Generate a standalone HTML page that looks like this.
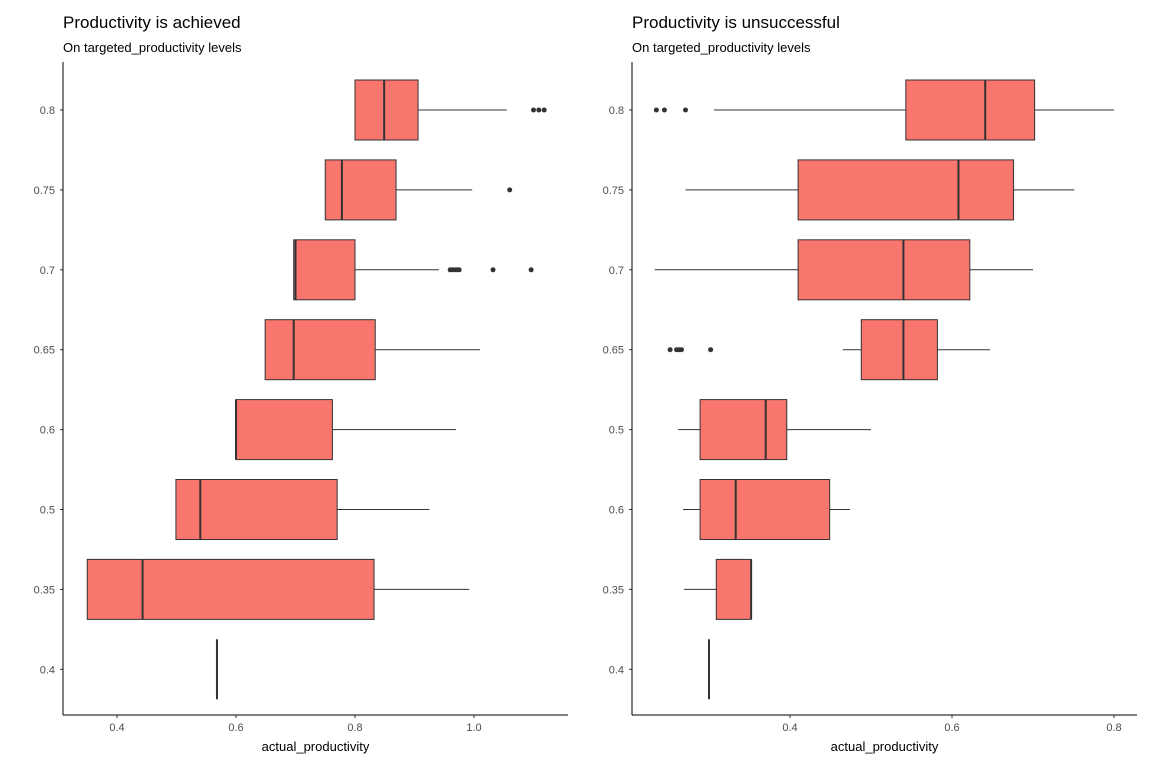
<!DOCTYPE html>
<html><head><meta charset="utf-8"><style>
body{margin:0;background:#fff;}
svg{display:block;font-family:"Liberation Sans",sans-serif;}
</style></head><body>
<svg id="chart" width="1152" height="768" viewBox="0 0 1152 768"></svg>
<script>
const categoriesLeft=["0.8","0.75","0.7","0.65","0.6","0.5","0.35","0.4"];
const minLeft=[0.8,0.75,0.697,0.649,0.6,0.5,0.35,0.568];
const q1Left=[0.8,0.75,0.697,0.649,0.6,0.499,0.35,0.568];
const medLeft=[0.849,0.778,0.7,0.697,0.6,0.54,0.443,0.568];
const q3Left=[0.906,0.869,0.8,0.834,0.762,0.77,0.832,0.568];
const maxLeft=[1.055,0.997,0.941,1.01,0.97,0.925,0.992,0.568];
const outLeft=[[1.10,1.109,1.118],[1.06],[0.96,0.965,0.97,0.975,1.032,1.096],[],[],[],[],[]];
const ticksLeft=[0.4,0.6,0.8,1.0];
const tickLabelsLeft=["0.4","0.6","0.8","1.0"];

const categoriesRight=["0.8","0.75","0.7","0.65","0.5","0.6","0.35","0.4"];
const minRight=[0.306,0.271,0.233,0.465,0.262,0.268,0.269,0.3];
const q1Right=[0.543,0.41,0.41,0.488,0.289,0.289,0.309,0.3];
const medRight=[0.641,0.608,0.54,0.54,0.37,0.333,0.352,0.3];
const q3Right=[0.702,0.676,0.622,0.582,0.396,0.449,0.352,0.3];
const maxRight=[0.8,0.751,0.7,0.647,0.5,0.474,0.352,0.3];
const outRight=[[0.235,0.245,0.271],[],[],[0.252,0.26,0.263,0.266,0.302],[],[],[],[]];
const ticksRight=[0.4,0.6,0.8];
const tickLabelsRight=["0.4","0.6","0.8"];

const svg=document.getElementById('chart');
const NS='http://www.w3.org/2000/svg';
function mk(tag,attrs,parent){const e=document.createElementNS(NS,tag);for(const k in attrs)e.setAttribute(k,attrs[k]);(parent||svg).appendChild(e);return e;}

function panel(p){
  const g=mk('g',{});
  
  
  const x=v=>p.x0+(v-p.v0)*p.scale;
  const y=i=>110+i*79.9;
  const t=mk('text',{x:p.left,y:28,'font-size':17,fill:'#000'},g);t.textContent=p.title;
  
  const s=mk('text',{x:p.left,y:52,'font-size':13,fill:'#000'},g);s.textContent='On targeted_productivity levels';
  
  p.cats.forEach((c,i)=>{
    const cy=y(i),h=30;
    const lab=mk('text',{x:p.left-8,y:cy+4,'font-size':11,fill:'#4d4d4d','text-anchor':'end'},g);lab.textContent=c;
    
    mk('line',{x1:p.left-3,x2:p.left,y1:cy,y2:cy,stroke:'#333'},g);
    const w=mk('line',{x1:x(p.min[i]),x2:x(p.max[i]),y1:cy,y2:cy,stroke:'#333','stroke-width':1},g);
    
    const bw=x(p.q3[i])-x(p.q1[i]);
    if(bw>0.5){
      const r=mk('rect',{x:x(p.q1[i]),y:cy-h,width:bw,height:2*h,fill:'#F8766D',stroke:'#333','stroke-width':1},g);
      
    }
    const m=mk('line',{x1:x(p.med[i]),x2:x(p.med[i]),y1:cy-h,y2:cy+h,stroke:'#333','stroke-width':2},g);
    
    p.out[i].forEach(v=>{
      const o=mk('circle',{cx:x(v),cy:cy,r:2.5,fill:'#333'},g);
      
    });
  });
  mk('line',{x1:p.left,x2:p.left,y1:62,y2:715,stroke:'#000'},g);
  mk('line',{x1:p.left,x2:p.right,y1:715,y2:715,stroke:'#000'},g);
  p.ticks.forEach((v,i)=>{
    mk('line',{x1:x(v),x2:x(v),y1:715,y2:718,stroke:'#333'},g);
    const tl=mk('text',{x:x(v),y:731,'font-size':11,fill:'#4d4d4d','text-anchor':'middle'},g);tl.textContent=p.tickLabels[i];
    
  });
  const xt=mk('text',{x:(p.left+p.right)/2,y:751,'font-size':13,fill:'#000','text-anchor':'middle'},g);xt.textContent='actual_productivity';
  
}
panel({name:'left-panel',title:'Productivity is achieved',left:63,right:568,x0:117,v0:0.4,scale:595,cats:categoriesLeft,min:minLeft,q1:q1Left,med:medLeft,q3:q3Left,max:maxLeft,out:outLeft,ticks:ticksLeft,tickLabels:tickLabelsLeft});
panel({name:'right-panel',title:'Productivity is unsuccessful',left:632,right:1137,x0:790,v0:0.4,scale:810,cats:categoriesRight,min:minRight,q1:q1Right,med:medRight,q3:q3Right,max:maxRight,out:outRight,ticks:ticksRight,tickLabels:tickLabelsRight});
</script>
</body></html>
